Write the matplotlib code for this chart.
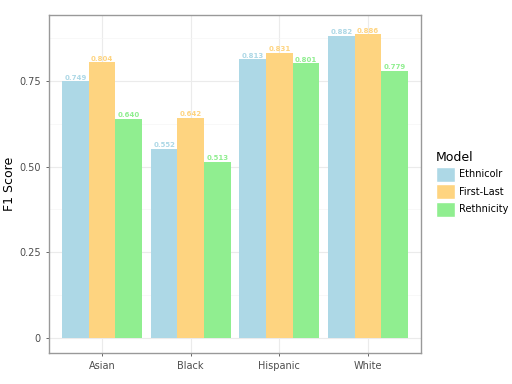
import numpy as np
import matplotlib.pyplot as plt
from matplotlib.patches import Patch

# data
groups = ['Asian', 'Black', 'Hispanic', 'White']
models = ['Ethnicolr', 'First-Last', 'Rethnicity']
ethnicolr = [0.749, 0.552, 0.813, 0.882]
first_last = [0.804, 0.642, 0.831, 0.886]
rethnicity = [0.640, 0.513, 0.801, 0.779]
colors = ['#ADD8E6', '#FED480', '#90EE90']

fig = plt.figure(figsize=(5.12, 3.84), dpi=100)
ax = fig.add_axes([49 / 512, 1 - 353 / 384, 372 / 512, 338 / 384])

x = np.arange(1, len(groups) + 1)
w = 0.3
series = [ethnicolr, first_last, rethnicity]
for i, (vals, c) in enumerate(zip(series, colors)):
    pos = x + (i - 1) * w
    ax.bar(pos, vals, width=w, color=c, zorder=2)
    for p, v in zip(pos, vals):
        ax.text(p, v + 0.002, f'{v:.3f}', color=c, fontsize=5, fontweight='bold',
                ha='center', va='bottom', zorder=3)

ax.set_xlim(0.4, 4.6)
ax.set_ylim(-0.0445, 0.9425)
ax.set_xticks(x)
ax.set_xticklabels(groups)
ax.set_yticks([0, 0.25, 0.5, 0.75])
ax.set_yticklabels(['0', '0.25', '0.50', '0.75'])
ax.set_yticks([0.125, 0.375, 0.625, 0.875], minor=True)
ax.grid(which='major', color='#EBEBEB', linewidth=0.8, zorder=0)
ax.grid(which='minor', axis='y', color='#F5F5F5', linewidth=0.5, zorder=0)
ax.tick_params(which='major', labelsize=7, colors='#4D4D4D', length=2.5, width=0.6)
ax.tick_params(which='minor', length=0)
for s in ax.spines.values():
    s.set_color('#999999')
    s.set_linewidth(1)
ax.set_ylabel('F1 Score', fontsize=9)
ax.yaxis.set_label_coords(-0.088, 0.5)

handles = [Patch(facecolor=c, edgecolor='white') for c in colors]
leg = fig.legend(handles, models, title='Model', loc='center left',
                 bbox_to_anchor=(431 / 512, 1 - 184 / 384), frameon=False,
                 fontsize=7, title_fontsize=9, handlelength=2.0, handleheight=2.0,
                 handletextpad=0.4, labelspacing=0.25, borderpad=0)
leg._legend_box.align = 'left'

fig.savefig('out.png', dpi=100)
